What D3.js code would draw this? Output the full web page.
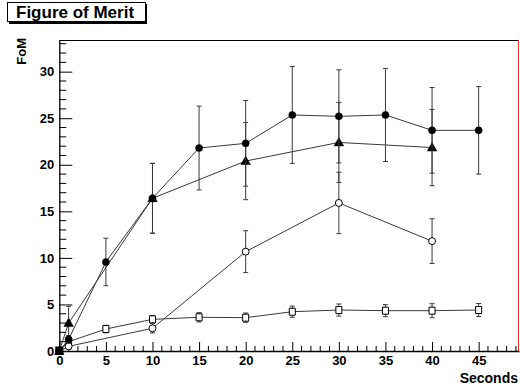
<!DOCTYPE html>
<html lang="en">
<head>
  <meta charset="UTF-8">
  <title>Figure of Merit</title>
  <script src="https://d3js.org/d3.v7.min.js"></script>
  <style>
    body { margin: 0; background: #fff; }
    svg { display: block; }
    text { font-family: "Liberation Sans", Arial, sans-serif; font-weight: bold; fill: #000; }
    .curve { fill: none; stroke: #3a3a3a; stroke-width: 1; }
    .err { stroke: #3a3a3a; stroke-width: 1; }
  </style>
</head>
<body>
  <svg id="chart"></svg>
  <script>
    // values
    const tCircle = [0, 1, 5, 10, 15, 20, 25, 30, 35, 40, 45];
    const fomCircle = [0, 1.26, 9.56, 16.4, 21.8, 22.3, 25.35, 25.2, 25.35, 23.7, 23.7];
    const errCircle = [0, 0.4, 2.55, 3.75, 4.5, 4.6, 5.2, 5.0, 5.0, 4.6, 4.7];

    const tTriangle = [0, 1, 10, 20, 30, 40];
    const fomTriangle = [0, 3.0, 16.4, 20.4, 22.4, 21.85];
    const errTriangle = [0, 1.8, 3.75, 4.15, 4.3, 4.1];

    const tOpenCircle = [0, 1, 10, 20, 30, 40];
    const fomOpenCircle = [0, 0.5, 2.44, 10.67, 15.9, 11.8];
    const errOpenCircle = [0, 0.3, 0.5, 2.25, 3.3, 2.4];

    const tSquare = [0, 1, 5, 10, 15, 20, 25, 30, 35, 40, 45];
    const fomSquare = [0, 1.0, 2.36, 3.4, 3.62, 3.58, 4.22, 4.4, 4.33, 4.33, 4.4];
    const errSquare = [0, 0.3, 0.4, 0.4, 0.5, 0.5, 0.6, 0.65, 0.65, 0.75, 0.7];

    const xTicks = [0, 5, 10, 15, 20, 25, 30, 35, 40, 45];
    const yTicks = [0, 5, 10, 15, 20, 25, 30];

    const width = 520, height = 392;
    const mLeft = 59.3, mRight = 519, mTop = 40, mBottom = 351;

    const svg = d3.select("#chart").attr("width", width).attr("height", height);

    const x = d3.scaleLinear().domain([0, 49.33]).range([mLeft, mRight]);
    const y = d3.scaleLinear().domain([0, 33.4]).range([mBottom, mTop]);

    // title box with shadow
    svg.append("rect").attr("x", 9).attr("y", 4).attr("width", 138).attr("height", 20).attr("fill", "#000");
    svg.append("rect").attr("x", 7.5).attr("y", 2.5).attr("width", 138).attr("height", 19)
      .attr("fill", "#fff").attr("stroke", "#000").attr("stroke-width", 1);
    svg.append("text").attr("x", 16).attr("y", 18).attr("font-size", 17).text("Figure of Merit");

    // frame
    svg.append("line").attr("x1", mLeft).attr("x2", mRight).attr("y1", mTop + 0.5).attr("y2", mTop + 0.5)
      .attr("stroke", "#000");
    svg.append("line").attr("x1", mRight - 0.5).attr("x2", mRight - 0.5).attr("y1", mTop).attr("y2", mBottom)
      .attr("stroke", "#e03030");

    // x axis, ticks pointing up
    const xAxis = d3.axisBottom(x).tickValues(xTicks).tickFormat(d3.format("d"))
      .tickSizeInner(-9).tickSizeOuter(0).tickPadding(5);
    const gx = svg.append("g").attr("transform", `translate(0,${mBottom})`).call(xAxis)
      .attr("font-family", null).attr("font-size", 13);
    gx.select(".domain").attr("stroke-width", 1.6);
    gx.append("g").selectAll("line").data(d3.range(0, 50).filter(v => v % 5 !== 0))
      .join("line").attr("x1", d => x(d)).attr("x2", d => x(d)).attr("y1", 0).attr("y2", -5)
      .attr("stroke", "#000");

    // y axis, ticks pointing right
    const yAxis = d3.axisLeft(y).tickValues(yTicks).tickFormat(d3.format("d"))
      .tickSizeInner(-13).tickSizeOuter(0).tickPadding(5);
    const gy = svg.append("g").attr("transform", `translate(${mLeft},0)`).call(yAxis)
      .attr("font-family", null).attr("font-size", 13);
    gy.select(".domain").attr("stroke-width", 1.3);
    gy.append("g").selectAll("line").data(d3.range(0, 34).filter(v => v % 5 !== 0))
      .join("line").attr("x1", 0).attr("x2", 7).attr("y1", d => y(d)).attr("y2", d => y(d))
      .attr("stroke", "#000");

    // axis titles
    svg.append("text").attr("transform", "rotate(-90)").attr("x", -38).attr("y", 26)
      .attr("text-anchor", "end").attr("font-size", 13).text("FoM");
    svg.append("text").attr("x", 518).attr("y", 383).attr("text-anchor", "end")
      .attr("font-size", 14).text("Seconds");

    const line = d3.line().x(d => x(d.t)).y(d => y(d.v));

    function series(ts, vs, es) {
      return ts.map((t, i) => ({ t: t, v: vs[i], e: es[i] }));
    }

    function drawSeries(data, marker) {
      const g = svg.append("g");
      g.append("path").datum(data).attr("class", "curve").attr("d", line);
      const eb = g.selectAll(".eb").data(data.filter(d => d.e > 0)).join("g");
      eb.append("line").attr("class", "err")
        .attr("x1", d => x(d.t)).attr("x2", d => x(d.t))
        .attr("y1", d => y(d.v + d.e)).attr("y2", d => y(d.v - d.e));
      eb.append("line").attr("class", "err")
        .attr("x1", d => x(d.t) - 2.5).attr("x2", d => x(d.t) + 2.5)
        .attr("y1", d => y(d.v + d.e)).attr("y2", d => y(d.v + d.e));
      eb.append("line").attr("class", "err")
        .attr("x1", d => x(d.t) - 2.5).attr("x2", d => x(d.t) + 2.5)
        .attr("y1", d => y(d.v - d.e)).attr("y2", d => y(d.v - d.e));
      g.selectAll(".mk").data(data).join("path")
        .attr("transform", d => `translate(${x(d.t)},${y(d.v)})`)
        .attr("d", marker.path)
        .attr("fill", marker.fill)
        .attr("stroke", "#000").attr("stroke-width", marker.sw);
    }

    drawSeries(series(tSquare, fomSquare, errSquare),
      { path: "M-3,-3.5H3V3.5H-3Z", fill: "#fff", sw: 1 });
    drawSeries(series(tOpenCircle, fomOpenCircle, errOpenCircle),
      { path: d3.symbol(d3.symbolCircle, 38)(), fill: "#fff", sw: 1 });
    drawSeries(series(tTriangle, fomTriangle, errTriangle),
      { path: "M0,-5L4.8,3.5H-4.8Z", fill: "#000", sw: 0.5 });
    drawSeries(series(tCircle, fomCircle, errCircle),
      { path: d3.symbol(d3.symbolCircle, 40)(), fill: "#000", sw: 0.5 });

    // origin markers overlap into a solid block
    svg.append("rect").attr("x", x(0) - 4).attr("y", y(0) - 4.5).attr("width", 8).attr("height", 8.5).attr("fill", "#000");
  </script>
</body>
</html>
